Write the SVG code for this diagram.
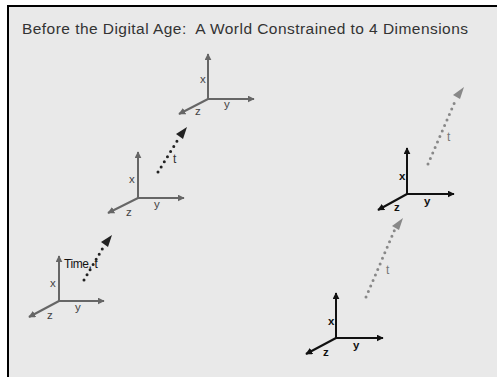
<svg xmlns="http://www.w3.org/2000/svg" width="497" height="377" viewBox="0 0 497 377">
<style>
.ax{stroke:#666;stroke-width:2;fill:none}
.axk{stroke:#111;stroke-width:2;fill:none}
.lbl{font-family:"Liberation Sans",Arial,sans-serif;font-size:11.5px;fill:#444}
.lblk{font-family:"Liberation Sans",Arial,sans-serif;font-size:11.5px;font-weight:bold;fill:#111}
.dk{stroke:#222;stroke-width:3;stroke-linecap:round;stroke-dasharray:0 6;fill:none}
.dg{stroke:#888;stroke-width:3;stroke-linecap:round;stroke-dasharray:0 6;fill:none}
.tl{font-family:"Liberation Sans",Arial,sans-serif;font-size:12px}
</style>
<defs>
<marker id="ag" viewBox="0 0 10 10" refX="9" refY="5" markerWidth="3.5" markerHeight="3.5" orient="auto" markerUnits="strokeWidth"><path d="M0,0 L10,5 L0,10 z" fill="#666"/></marker>
<marker id="ak" viewBox="0 0 10 10" refX="9" refY="5" markerWidth="3.5" markerHeight="3.5" orient="auto" markerUnits="strokeWidth"><path d="M0,0 L10,5 L0,10 z" fill="#111"/></marker>
</defs>
<rect x="0" y="0" width="497" height="377" fill="#ffffff"/>
<rect x="8" y="6" width="500" height="380" fill="#e9e9e9" stroke="#000" stroke-width="2"/>
<text x="22" y="34" xml:space="preserve" font-family="'Liberation Sans',Arial,sans-serif" font-size="15.5" fill="#333" textLength="446" lengthAdjust="spacing">Before the Digital Age:  A World Constrained to 4 Dimensions</text>

<g id="axes1">
<line class="ax" x1="208" y1="99" x2="208" y2="54" marker-end="url(#ag)"/>
<line class="ax" x1="208" y1="99" x2="254" y2="99" marker-end="url(#ag)"/>
<line class="ax" x1="208" y1="99" x2="179" y2="114" marker-end="url(#ag)"/>
<text class="lbl" x="200" y="83">x</text>
<text class="lbl" x="224" y="108">y</text>
<text class="lbl" x="195" y="115">z</text>
</g>
<g id="axes2">
<line class="ax" x1="138" y1="198" x2="138" y2="152" marker-end="url(#ag)"/>
<line class="ax" x1="138" y1="198" x2="184" y2="198" marker-end="url(#ag)"/>
<line class="ax" x1="138" y1="198" x2="108" y2="213" marker-end="url(#ag)"/>
<text class="lbl" x="129" y="183">x</text>
<text class="lbl" x="154" y="208">y</text>
<text class="lbl" x="126" y="216">z</text>
</g>
<g id="axes3">
<line class="ax" x1="59" y1="301" x2="59" y2="256" marker-end="url(#ag)"/>
<line class="ax" x1="59" y1="301" x2="104" y2="301" marker-end="url(#ag)"/>
<line class="ax" x1="59" y1="301" x2="29" y2="317" marker-end="url(#ag)"/>
<text class="lbl" x="50" y="287">x</text>
<text class="lbl" x="75" y="311">y</text>
<text class="lbl" x="47" y="319">z</text>
</g>
<g id="axes4">
<line class="axk" x1="336" y1="338" x2="336" y2="293" marker-end="url(#ak)"/>
<line class="axk" x1="336" y1="338" x2="383" y2="338" marker-end="url(#ak)"/>
<line class="axk" x1="336" y1="338" x2="306" y2="354" marker-end="url(#ak)"/>
<text class="lblk" x="328" y="325">x</text>
<text class="lblk" x="353" y="349">y</text>
<text class="lblk" x="323" y="356">z</text>
</g>
<g id="axes5">
<line class="axk" x1="407" y1="194" x2="407" y2="148" marker-end="url(#ak)"/>
<line class="axk" x1="407" y1="194" x2="454" y2="194" marker-end="url(#ak)"/>
<line class="axk" x1="407" y1="194" x2="378" y2="210" marker-end="url(#ak)"/>
<text class="lblk" x="399" y="180">x</text>
<text class="lblk" x="424" y="205">y</text>
<text class="lblk" x="394" y="211">z</text>
</g>
<g id="connectors">
<line class="dk" x1="84" y1="280" x2="104" y2="246"/>
<path d="M112,235 L101,242 L108,247 z" fill="#222"/>
<line class="dk" x1="158" y1="172" x2="179" y2="138"/>
<path d="M187,127 L176,134 L183,139 z" fill="#222"/>
<line class="dg" x1="366" y1="297" x2="395" y2="229"/>
<path d="M403,218 L392,226 L399,230 z" fill="#888"/>
<line class="dg" x1="428" y1="164" x2="456" y2="99"/>
<path d="M464,87 L453,95 L460,99 z" fill="#888"/>
<text class="tl" x="64" y="268" fill="#111" letter-spacing="-0.4">Time, t</text>
<text class="tl" x="173" y="163" fill="#333">t</text>
<text class="tl" x="386" y="274" fill="#777">t</text>
<text class="tl" x="447" y="141" fill="#777">t</text>
</g>
</svg>
